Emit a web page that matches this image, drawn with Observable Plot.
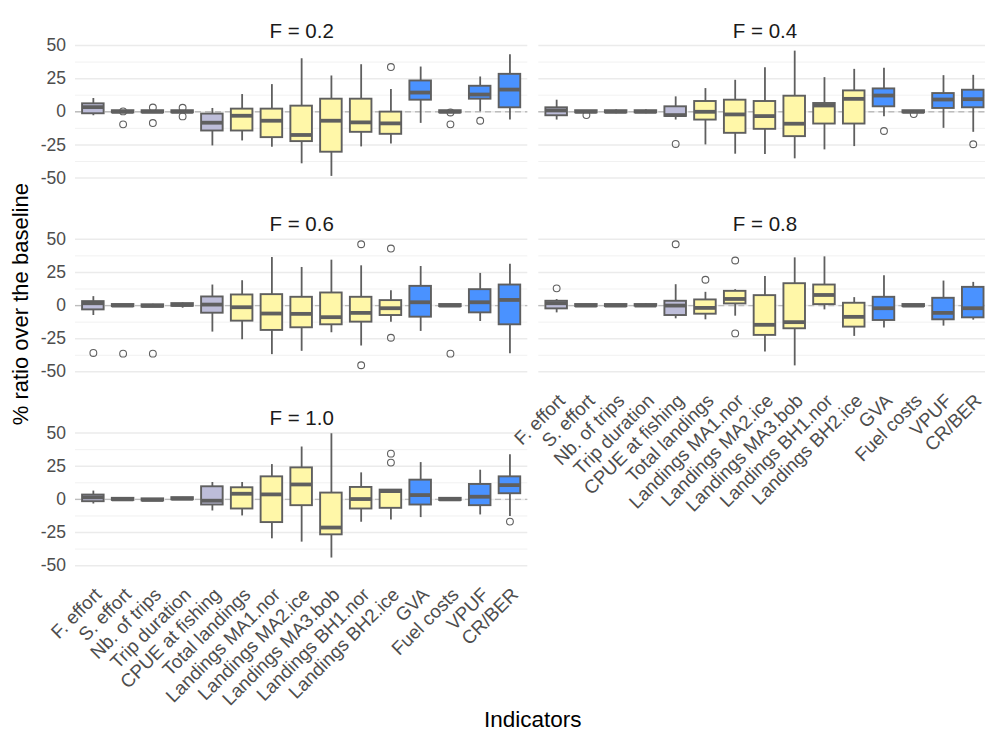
<!DOCTYPE html>
<html>
<head>
<meta charset="utf-8">
<script src="https://cdn.jsdelivr.net/npm/d3@7"></script>
<script src="https://cdn.jsdelivr.net/npm/@observablehq/plot@0.6"></script>
<style>
  html, body { margin: 0; padding: 0; background: #ffffff; }
  #chart { width: 985px; height: 731px; overflow: hidden; position: relative; }
</style>
</head>
<body>
<div id="chart"></div>
<script>
// ---- Categories ----
const indicators = ["F. effort","S. effort","Nb. of trips","Trip duration","CPUE at fishing","Total landings","Landings MA1.nor","Landings MA2.ice","Landings MA3.bob","Landings BH1.nor","Landings BH2.ice","GVA","Fuel costs","VPUF","CR/BER"];
const indicatorGroup = ["effort","effort","effort","effort","effort","landings","landings","landings","landings","landings","landings","economic","economic","economic","economic"];
const groupNames = ["effort","landings","economic"];
const groupColors = ["#BDBDD9","#FFF7A8","#4A92FF"];
const facetLabels = ["F = 0.2","F = 0.4","F = 0.6","F = 0.8","F = 1.0"];
const facetColumn = [0,1,0,1,0];
const facetRow = [0,0,1,1,2];
const yTicks = [-50,-25,0,25,50];
const yMinorTicks = [-37.5,-12.5,12.5,37.5];

// ---- Box statistics, one row per facet (F = 0.2, 0.4, 0.6, 0.8, 1.0) ----
const whiskerLow = [
  [-3, -1, -1, -1, -25.75, -22, -26.75, -39.25, -48.75, -26.5, -24.25, -8.75, -1, 0, -6.25],
  [-6.25, -1, -1.5, -1.5, -6.25, -25, -32, -32.25, -35.5, -28.75, -26.25, -3.75, -1, -12.5, -15.5],
  [-7.5, -1, -1, -2, -20, -25.75, -37, -34.5, -20.5, -30.5, -12.5, -19.5, -1, -12, -36.25],
  [-5.5, -1, -1, -1, -10, -10.75, -8, -35, -45.5, -3.25, -23.25, -17, -1, -15.5, -11],
  [-3.5, -1, -1, -0.5, -8.75, -12.5, -29.75, -32.25, -44.25, -17.25, -15.5, -13.75, -1, -11.75, -13]
];
const boxLow = [
  [-1.5, -0.8, -0.8, -0.8, -14.5, -14.5, -19.5, -22.5, -30.5, -15.5, -17, 8.75, -0.8, 9.5, 3],
  [-3, -0.8, -0.8, -0.8, -3.5, -6.25, -16.25, -13.25, -18.75, -9.25, -9.25, 3.75, -0.8, 2.5, 3],
  [-3.25, -0.8, -1.2, -0.5, -5.75, -11.75, -18.75, -16.75, -14.5, -12.5, -7.5, -8.75, -0.8, -5.5, -14.5],
  [-2.5, -0.8, -0.8, -0.5, -7.5, -6.5, 1.25, -22.5, -17.5, 0.75, -16.25, -11.25, -0.8, -10.75, -9.25],
  [-1.75, -0.8, -1.2, -0.3, -4.25, -7.25, -17.5, -4.75, -26.75, -7.25, -6.75, -4.25, -0.8, -4.75, 4.25]
];
const medians = [
  [3.5, 0, 0, 0, -8.25, -3, -6.75, -17.5, -6.75, -8, -8.75, 14.5, 0, 13, 16.75],
  [1, 0, 0, 0, -2.5, 0, -2, -3.25, -9, 4.75, 9.75, 12.25, 0, 9.25, 9.5],
  [1.75, 0, -0.2, 0.5, 0.75, -1.25, -6, -6.25, -8.75, -5.5, -2, 2.5, 0, 2.5, 4.25],
  [1.75, 0, 0, 0, 0, -1.75, 5, -14.5, -12.5, 8, -8.5, -2, 0, -5.5, -2],
  [1.5, 0, -0.4, 0.5, -1, 4.25, 3.75, 11.25, -21.25, 0.25, 6.25, 3.25, 0, 2, 10.75]
];
const boxHigh = [
  [6, 0.8, 0.8, 0.8, -1.75, 2, 2, 4.25, 9.5, 9.5, -0.25, 23.25, 0.8, 19.25, 28.25],
  [3, 0.8, 0.8, 0.8, 3.75, 7.75, 8.75, 7.75, 11.75, 6.25, 15.75, 17.25, 0.8, 13.75, 16.25],
  [3, 0.8, 0.6, 1.5, 6.5, 8, 8.25, 6.25, 9.5, 6.25, 3.75, 14.5, 0.8, 12, 15.5],
  [3.25, 0.8, 0.8, 0.8, 3.25, 4.25, 10.75, 7.5, 16.5, 15.5, 1.75, 6.25, 0.8, 5.5, 13.75],
  [3.25, 0.8, 0.4, 1.3, 9.5, 8.75, 17, 23.75, 4.75, 9, 7, 14.5, 0.8, 11.25, 17]
];
const whiskerHigh = [
  [10, 1, 1, 1, 2.5, 13, 20.5, 40, 27, 35.5, 16.75, 33.75, 1, 26.25, 43],
  [8.75, 1, 1.5, 1.5, 11.25, 17.5, 23.75, 33.25, 45.75, 25.75, 32, 32.75, 1, 27.25, 27.5],
  [6.75, 1, 1, 2, 15.5, 18.75, 36.25, 28.75, 34.25, 30, 11.25, 29.5, 1, 24.25, 31.25],
  [4.5, 1, 1, 1.2, 15.75, 10, 12, 22, 36, 36.75, 6, 22.5, 1, 18.5, 17.5],
  [6.25, 1, 0.5, 1.5, 12.75, 12.75, 26.25, 39.5, 49.5, 20, 7, 27.75, 1, 22, 33.75]
];
const outliers = [
  [[], [0.3, -9.5], [3.2, -8.5], [3, -3.5], [], [], [], [], [], [], [33.75], [], [-0.5, -9.5], [-6.75], []],
  [[], [-2.5], [], [], [-24.25], [], [], [], [], [], [], [-14.5], [-1.75], [], [-24.5]],
  [[-35.75], [-36.25], [-36.25], [], [], [], [], [], [], [46.25, -45], [43, -24.25], [], [-36.25], [], []],
  [[13], [], [], [], [46.25], [19.5], [34, -21], [], [], [], [], [], [], [], []],
  [[], [], [], [], [], [], [], [], [], [], [34.5, 27.75], [], [], [], [-16.75]]
];

// ---- Tables for the library ----
const facetRows = facetLabels.map((label, fi) => ({label, col: facetColumn[fi], row: facetRow[fi]}));
const boxes = facetLabels.flatMap((f, fi) => indicators.map((ind, ii) => ({
  col: facetColumn[fi], row: facetRow[fi], ind, group: indicatorGroup[ii],
  lo: whiskerLow[fi][ii], q1: boxLow[fi][ii], med: medians[fi][ii], q3: boxHigh[fi][ii], hi: whiskerHigh[fi][ii]
})));
const outlierRows = facetLabels.flatMap((f, fi) => indicators.flatMap((ind, ii) =>
  outliers[fi][ii].map(v => ({col: facetColumn[fi], row: facetRow[fi], ind, v}))));
const majorGrid = facetRows.flatMap(f => yTicks.map(v => ({...f, v})));
const minorGrid = facetRows.flatMap(f => yMinorTicks.map(v => ({...f, v})));

const lineColor = "#5F5F5F";
const boxInset = 4.1;

const plot = Plot.plot({
  width: 991,
  height: 731,
  marginLeft: 75,
  marginRight: 0.4,
  marginTop: 38.5,
  marginBottom: 161.2,
  style: {fontFamily: "'Liberation Sans', Arial, sans-serif", background: "#ffffff", maxWidth: "none", overflow: "visible"},
  fx: {domain: [0, 1], paddingInner: 0.02374, paddingOuter: 0, axis: null, round: false},
  fy: {domain: [0, 1, 2], paddingInner: 0.2585, paddingOuter: 0, axis: null, round: false},
  x: {domain: indicators, paddingInner: 0, paddingOuter: 0.1, round: false},
  y: {domain: [-53.5, 54.9]},
  color: {domain: groupNames, range: groupColors},
  marks: [
    Plot.ruleY(minorGrid, {y: "v", fx: "col", fy: "row", stroke: "#EFEFEF", strokeWidth: 0.9}),
    Plot.ruleY(majorGrid, {y: "v", fx: "col", fy: "row", stroke: "#EBEBEB", strokeWidth: 1.5}),
    Plot.ruleY(facetRows, {y: () => 0, fx: "col", fy: "row", stroke: "#BDBDBD", strokeWidth: 1.4, strokeDasharray: "6,4"}),
    Plot.ruleX(boxes, {x: "ind", y1: "lo", y2: "hi", fx: "col", fy: "row", stroke: lineColor, strokeWidth: 1.8}),
    Plot.barY(boxes, {x: "ind", y1: "q1", y2: "q3", fx: "col", fy: "row", fill: "group", stroke: lineColor, strokeWidth: 1.9, insetLeft: boxInset, insetRight: boxInset}),
    Plot.tickY(boxes, {x: "ind", y: "med", fx: "col", fy: "row", stroke: lineColor, strokeWidth: 3.8, insetLeft: boxInset, insetRight: boxInset}),
    Plot.dot(outlierRows, {x: "ind", y: "v", fx: "col", fy: "row", r: 3.4, stroke: lineColor, strokeWidth: 1.1, fill: "none"}),
    Plot.axisY({ticks: yTicks, tickSize: 0, tickPadding: 9.5, tickFormat: d => String(d), fontSize: 17.5, color: "#4D4D4D", label: null, facetAnchor: "left"}),
    Plot.axisX({tickSize: 0, tickPadding: 16, tickRotate: -45, fontSize: 18.8, color: "#4D4D4D", label: null, textAnchor: "end", lineAnchor: "top", facetAnchor: "bottom-empty"}),
    Plot.text(facetRows, {fx: "col", fy: "row", text: "label", frameAnchor: "top", dy: -16, fontSize: 20.5, fill: "#1A1A1A"})
  ]
});

document.getElementById("chart").appendChild(plot);

const svg = d3.select(plot);
svg.append("text")
  .attr("x", 532.8).attr("y", 726.5)
  .attr("text-anchor", "middle")
  .attr("font-size", 22.5)
  .attr("fill", "#000000")
  .text("Indicators");
svg.append("text")
  .attr("transform", "translate(28,304.2) rotate(-90)")
  .attr("text-anchor", "middle")
  .attr("font-size", 22)
  .attr("fill", "#000000")
  .text("% ratio over the baseline");
</script>
</body>
</html>
